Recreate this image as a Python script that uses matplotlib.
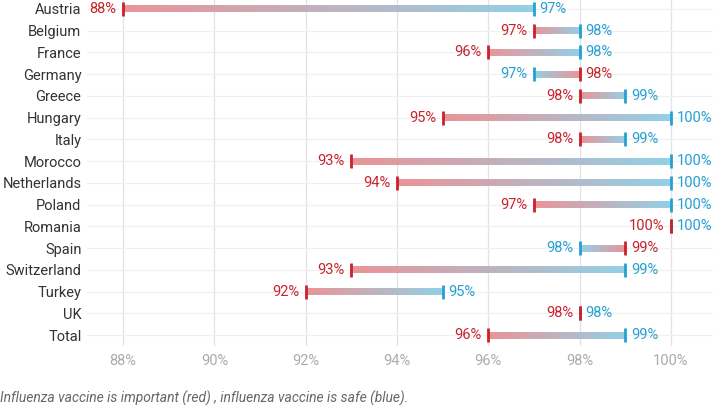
import matplotlib
matplotlib.use("Agg")
import matplotlib.pyplot as plt
from matplotlib.colors import LinearSegmentedColormap
import numpy as np

plt.rcParams['font.family'] = ['Roboto', 'DejaVu Sans']

countries = ['Austria', 'Belgium', 'France', 'Germany', 'Greece', 'Hungary', 'Italy',
             'Morocco', 'Netherlands', 'Poland', 'Romania', 'Spain', 'Switzerland',
             'Turkey', 'UK', 'Total']
important = [88, 97, 96, 98, 98, 95, 98, 93, 94, 97, 100, 99, 93, 92, 98, 96]
safe = [97, 98, 98, 97, 99, 100, 99, 100, 100, 100, 100, 98, 99, 95, 98, 99]
xticks = [88, 90, 92, 94, 96, 98, 100]

red_dark = '#C8222C'
blue_dark = '#24A0D2'
red_light = '#E98B8F'
blue_light = '#8ACDE5'

fig = plt.figure(figsize=(7.13, 4.07), dpi=100)
ax = fig.add_axes([87 / 713, 61 / 407, 1 - 87 / 713, 1 - 61 / 407])

ax.set_xlim(87.21, 100.92)
ax.set_ylim(15.5, -0.41)

for x in xticks:
    ax.axvline(x, color='#E2E2E2', lw=0.9, zorder=0)
for i in range(len(countries)):
    ax.axhline(i, color='#F0F0F0', lw=0.9, zorder=0)

r2b = LinearSegmentedColormap.from_list('r2b', [red_light, blue_light])
b2r = LinearSegmentedColormap.from_list('b2r', [blue_light, red_light])
grad = np.linspace(0, 1, 256).reshape(1, -1)
h = 0.16

for i, (r, b) in enumerate(zip(important, safe)):
    lo, hi = min(r, b), max(r, b)
    if hi > lo:
        cmap = r2b if r <= b else b2r
        ax.imshow(grad, cmap=cmap, extent=[lo, hi, i + h, i - h], alpha=0.92,
                  aspect='auto', interpolation='bilinear', zorder=2)
    ax.plot([b, b], [i - 0.32, i + 0.32], color=blue_dark, lw=2, zorder=3,
            solid_capstyle='butt')
    ax.plot([r, r], [i - 0.32, i + 0.32], color=red_dark, lw=2, zorder=4,
            solid_capstyle='butt')
    # lower value label to the left, higher to the right (red left on ties)
    if r <= b:
        left_v, left_c, right_v, right_c = r, red_dark, b, blue_dark
    else:
        left_v, left_c, right_v, right_c = b, blue_dark, r, red_dark
    ax.text(left_v - 0.14, i, f'{left_v}%', color=left_c, fontsize=10.5,
            ha='right', va='center')
    ax.text(right_v + 0.12, i, f'{right_v}%', color=right_c, fontsize=10.5,
            ha='left', va='center')

ax.set_yticks(range(len(countries)))
ax.set_yticklabels(countries, fontsize=10.5, color='#333333')
ax.set_xticks(xticks)
ax.set_xticklabels([f'{x}%' for x in xticks], fontsize=10.5, color='#ABABAB')
ax.tick_params(length=0, pad=4)
ax.tick_params(axis='x', pad=6)
for s in ax.spines.values():
    s.set_visible(False)

fig.text(0.0, 9 / 407, 'Influenza vaccine is important (red) , influenza vaccine is safe (blue).',
         fontsize=10, style='italic', color='#666666', ha='left', va='center')

fig.savefig('out.png', dpi=100)
